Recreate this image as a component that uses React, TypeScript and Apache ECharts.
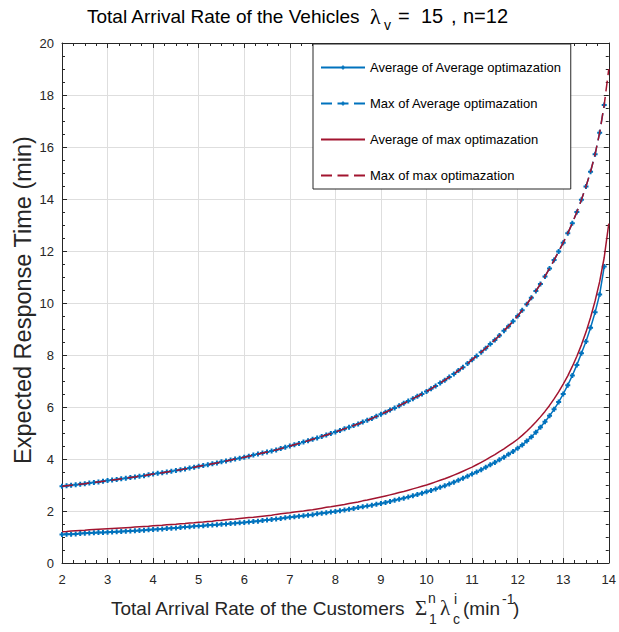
import { useEffect, useRef } from "react";
import * as echarts from "echarts";

// Total arrival rate of the customers (min^-1), sampled every 0.1
const lambdaC = [
  2.0, 2.1, 2.2, 2.3, 2.4, 2.5, 2.6, 2.7, 2.8, 2.9,
  3.0, 3.1, 3.2, 3.3, 3.4, 3.5, 3.6, 3.7, 3.8, 3.9,
  4.0, 4.1, 4.2, 4.3, 4.4, 4.5, 4.6, 4.7, 4.8, 4.9,
  5.0, 5.1, 5.2, 5.3, 5.4, 5.5, 5.6, 5.7, 5.8, 5.9,
  6.0, 6.1, 6.2, 6.3, 6.4, 6.5, 6.6, 6.7, 6.8, 6.9,
  7.0, 7.1, 7.2, 7.3, 7.4, 7.5, 7.6, 7.7, 7.8, 7.9,
  8.0, 8.1, 8.2, 8.3, 8.4, 8.5, 8.6, 8.7, 8.8, 8.9,
  9.0, 9.1, 9.2, 9.3, 9.4, 9.5, 9.6, 9.7, 9.8, 9.9,
  10.0, 10.1, 10.2, 10.3, 10.4, 10.5, 10.6, 10.7, 10.8, 10.9,
  11.0, 11.1, 11.2, 11.3, 11.4, 11.5, 11.6, 11.7, 11.8, 11.9,
  12.0, 12.1, 12.2, 12.3, 12.4, 12.5, 12.6, 12.7, 12.8, 12.9,
  13.0, 13.1, 13.2, 13.3, 13.4, 13.5, 13.6, 13.7, 13.8, 13.9,
  14.0,
];

// Average of Average optimazation (min), 2.0 .. 13.9
const avgOfAvg = [
  1.10, 1.11, 1.11, 1.12, 1.13, 1.14, 1.15, 1.16, 1.17, 1.17,
  1.18, 1.19, 1.20, 1.21, 1.22, 1.23, 1.24, 1.25, 1.26, 1.28,
  1.29, 1.30, 1.31, 1.33, 1.34, 1.35, 1.37, 1.38, 1.39, 1.41,
  1.42, 1.43, 1.45, 1.46, 1.47, 1.49, 1.50, 1.52, 1.53, 1.55,
  1.56, 1.58, 1.60, 1.61, 1.63, 1.65, 1.67, 1.69, 1.71, 1.74,
  1.76, 1.78, 1.80, 1.82, 1.84, 1.86, 1.89, 1.91, 1.93, 1.96,
  1.98, 2.01, 2.04, 2.07, 2.10, 2.13, 2.16, 2.19, 2.22, 2.26,
  2.29, 2.33, 2.37, 2.41, 2.45, 2.49, 2.54, 2.59, 2.63, 2.68,
  2.74, 2.79, 2.85, 2.91, 2.97, 3.04, 3.11, 3.18, 3.26, 3.34,
  3.42, 3.50, 3.59, 3.68, 3.78, 3.87, 3.97, 4.07, 4.18, 4.29,
  4.41, 4.54, 4.69, 4.85, 5.03, 5.22, 5.43, 5.66, 5.91, 6.19,
  6.50, 6.84, 7.21, 7.62, 8.07, 8.52, 9.05, 9.64, 10.33, 11.40,
];

// Max of Average optimazation (min), 2.0 .. 13.9
const maxOfAvg = [
  2.95, 2.97, 2.99, 3.01, 3.03, 3.05, 3.08, 3.10, 3.12, 3.14,
  3.17, 3.19, 3.21, 3.24, 3.26, 3.29, 3.31, 3.34, 3.36, 3.39,
  3.42, 3.45, 3.47, 3.50, 3.53, 3.56, 3.59, 3.62, 3.65, 3.68,
  3.72, 3.75, 3.78, 3.82, 3.85, 3.89, 3.92, 3.96, 4.00, 4.03,
  4.07, 4.11, 4.15, 4.19, 4.23, 4.27, 4.31, 4.35, 4.40, 4.45,
  4.50, 4.55, 4.60, 4.65, 4.70, 4.76, 4.81, 4.87, 4.92, 4.98,
  5.04, 5.10, 5.16, 5.22, 5.29, 5.35, 5.42, 5.49, 5.56, 5.64,
  5.72, 5.80, 5.88, 5.96, 6.05, 6.14, 6.23, 6.32, 6.41, 6.50,
  6.60, 6.70, 6.81, 6.92, 7.03, 7.15, 7.27, 7.40, 7.53, 7.67,
  7.82, 7.96, 8.11, 8.26, 8.42, 8.58, 8.75, 8.93, 9.11, 9.30,
  9.50, 9.72, 9.95, 10.20, 10.46, 10.73, 11.02, 11.33, 11.65, 11.98,
  12.32, 12.68, 13.07, 13.50, 13.97, 14.48, 15.05, 15.72, 16.55, 17.62,
];

// Average of max optimazation (min), 2.0 .. 14.0
const avgOfMax = [
  1.20, 1.21, 1.23, 1.24, 1.25, 1.26, 1.28, 1.29, 1.30, 1.31,
  1.32, 1.33, 1.34, 1.35, 1.36, 1.37, 1.38, 1.39, 1.40, 1.41,
  1.43, 1.44, 1.45, 1.47, 1.48, 1.49, 1.51, 1.52, 1.54, 1.55,
  1.57, 1.58, 1.60, 1.61, 1.63, 1.64, 1.66, 1.68, 1.69, 1.71,
  1.73, 1.75, 1.76, 1.78, 1.80, 1.82, 1.84, 1.87, 1.89, 1.91,
  1.93, 1.96, 1.98, 2.00, 2.03, 2.05, 2.08, 2.11, 2.14, 2.16,
  2.19, 2.22, 2.25, 2.29, 2.32, 2.35, 2.39, 2.42, 2.46, 2.50,
  2.54, 2.58, 2.62, 2.66, 2.71, 2.75, 2.80, 2.85, 2.90, 2.95,
  3.00, 3.06, 3.12, 3.18, 3.24, 3.31, 3.38, 3.45, 3.53, 3.61,
  3.69, 3.78, 3.87, 3.97, 4.07, 4.17, 4.28, 4.39, 4.51, 4.63,
  4.76, 4.91, 5.07, 5.24, 5.42, 5.62, 5.83, 6.06, 6.31, 6.58,
  6.88, 7.20, 7.56, 7.95, 8.39, 8.88, 9.44, 10.08, 10.82, 11.75,
  13.05,
];

// Max of max optimazation (min), 2.0 .. 14.0
const maxOfMax = [
  2.95, 2.97, 2.99, 3.01, 3.03, 3.05, 3.08, 3.10, 3.12, 3.14,
  3.17, 3.19, 3.21, 3.24, 3.26, 3.29, 3.31, 3.34, 3.36, 3.39,
  3.42, 3.45, 3.47, 3.50, 3.53, 3.56, 3.59, 3.62, 3.65, 3.68,
  3.72, 3.75, 3.78, 3.82, 3.85, 3.89, 3.92, 3.96, 4.00, 4.03,
  4.07, 4.11, 4.15, 4.19, 4.23, 4.27, 4.31, 4.35, 4.40, 4.45,
  4.50, 4.55, 4.60, 4.65, 4.70, 4.76, 4.81, 4.87, 4.92, 4.98,
  5.04, 5.10, 5.16, 5.22, 5.29, 5.35, 5.42, 5.49, 5.56, 5.64,
  5.72, 5.80, 5.88, 5.96, 6.05, 6.14, 6.23, 6.32, 6.41, 6.50,
  6.60, 6.70, 6.81, 6.92, 7.03, 7.15, 7.27, 7.40, 7.53, 7.67,
  7.82, 7.96, 8.11, 8.26, 8.42, 8.58, 8.75, 8.93, 9.11, 9.30,
  9.50, 9.72, 9.95, 10.20, 10.46, 10.73, 11.02, 11.33, 11.65, 11.98,
  12.32, 12.68, 13.07, 13.50, 13.97, 14.48, 15.05, 15.72, 16.55, 17.62,
  19.00,
];

const seriesNames = [
  "Average of Average optimazation",
  "Max of Average optimazation",
  "Average of max optimazation",
  "Max of max optimazation",
];

const X_MIN = 2;
const X_MAX = 14;
const X_STEP = 1;
const Y_MIN = 0;
const Y_MAX = 20;
const Y_STEP = 2;

const BLUE = "#0072BD";
const RED = "#A2142F";
const INK = "#262626";
const SANS = '"Liberation Sans", Arial, Helvetica, sans-serif';
const SERIF = '"Liberation Serif", "DejaVu Serif", serif';
const PLUS = "path://M3,0H7V3H10V7H7V10H3V7H0V3H3Z";
const DASH = [11, 5.5];

const pairs = (ys: number[]) => ys.map((y, i) => [lambdaC[i], y]);

// one run of text placed on a given baseline
function piece(text: string, x: number, baseline: number, size: number, family = SANS, fill = INK) {
  return {
    type: "text",
    x,
    y: baseline - 0.35 * size,
    silent: true,
    style: { text, fontSize: size, fontFamily: family, fill, align: "left", verticalAlign: "middle" },
  };
}

function frameAxis(position: "top" | "bottom" | "left" | "right", main: boolean) {
  const isX = position === "top" || position === "bottom";
  return {
    type: "value",
    position,
    min: isX ? X_MIN : Y_MIN,
    max: isX ? X_MAX : Y_MAX,
    interval: isX ? X_STEP : Y_STEP,
    axisLine: { show: true, onZero: false, lineStyle: { color: INK, width: 1 } },
    axisTick: { show: true, inside: true, length: 5, lineStyle: { color: INK, width: 1 } },
    minorTick: { show: true, splitNumber: 4, length: 3, lineStyle: { color: INK, width: 1 } },
    splitLine: { show: main, lineStyle: { color: "#dedede", width: 1 } },
    axisLabel: {
      show: main,
      fontSize: 13,
      fontFamily: SANS,
      color: INK,
      margin: isX ? 10 : 8,
    },
  };
}

export default function App() {
  const ref = useRef<HTMLDivElement>(null);

  useEffect(() => {
    document.body.style.margin = "0";
    const chart = echarts.init(ref.current!, null, { renderer: "svg" });

    const hiddenMark = { color: "rgba(0,0,0,0)", borderWidth: 0, opacity: 0 };

    const option = {
      animation: false,
      backgroundColor: "#ffffff",
      grid: { left: 62, right: 5, top: 43, bottom: 69, containLabel: false },
      xAxis: [frameAxis("bottom", true), frameAxis("top", false)],
      yAxis: [frameAxis("left", true), frameAxis("right", false)],
      legend: {
        orient: "vertical",
        left: 313,
        top: 44,
        itemWidth: 44,
        itemHeight: 5,
        itemGap: 23,
        padding: [17, 9, 7, 7],
        backgroundColor: "#ffffff",
        borderColor: INK,
        borderWidth: 1,
        selectedMode: false,
        textStyle: { fontSize: 13, fontFamily: SANS, color: "#000000" },
        data: [
          { name: seriesNames[0] },
          { name: seriesNames[1] },
          { name: seriesNames[2], itemStyle: hiddenMark },
          { name: seriesNames[3], itemStyle: hiddenMark },
        ],
      },
      graphic: [
        // title
        piece("Total Arrival Rate of the Vehicles", 87, 22.7, 19, SANS, "#000"),
        piece("λ", 370, 24, 22, SERIF, "#000"),
        piece("v", 384, 29.5, 14, SANS, "#000"),
        piece("=", 398, 22.7, 20, SANS, "#000"),
        piece("15", 421, 22.7, 20, SANS, "#000"),
        piece(",", 451, 22.7, 20, SANS, "#000"),
        piece("n=12", 463, 22.7, 20, SANS, "#000"),
        // x axis label
        piece("Total Arrival Rate of the Customers", 111, 615, 19),
        piece("Σ", 415, 615, 21, SERIF),
        piece("n", 428, 603, 14),
        piece("1", 429, 624, 14),
        piece("λ", 440, 615.5, 21, SERIF),
        piece("i", 454, 604, 14),
        piece("c", 453, 624, 14),
        piece("(min", 463, 615, 19),
        piece("-1", 502, 604, 14),
        piece(")", 513, 615, 19),
        // y axis label
        {
          type: "text",
          x: 22.5,
          y: 300,
          rotation: Math.PI / 2,
          silent: true,
          style: {
            text: "Expected Response Time (min)",
            fontSize: 23.5,
            fontFamily: SANS,
            fill: INK,
            align: "center",
            verticalAlign: "middle",
          },
        },
      ],
      series: [
        {
          name: seriesNames[0],
          type: "line",
          data: pairs(avgOfAvg),
          symbol: PLUS,
          symbolSize: 5,
          showSymbol: true,
          itemStyle: { color: BLUE, borderWidth: 0 },
          lineStyle: { color: BLUE, width: 1.5 },
          emphasis: { disabled: true },
          z: 2,
        },
        {
          name: seriesNames[1],
          type: "line",
          data: pairs(maxOfAvg),
          symbol: PLUS,
          symbolSize: 5,
          showSymbol: true,
          itemStyle: { color: BLUE, borderWidth: 0 },
          lineStyle: { color: BLUE, width: 1.5, type: DASH },
          emphasis: { disabled: true },
          z: 2,
        },
        {
          name: seriesNames[2],
          type: "line",
          data: pairs(avgOfMax),
          symbol: "none",
          itemStyle: { color: RED },
          lineStyle: { color: RED, width: 1.5 },
          emphasis: { disabled: true },
          z: 3,
        },
        {
          name: seriesNames[3],
          type: "line",
          data: pairs(maxOfMax),
          symbol: "none",
          itemStyle: { color: RED },
          lineStyle: { color: RED, width: 1.5, type: DASH },
          emphasis: { disabled: true },
          z: 3,
        },
      ],
    };

    chart.setOption(option as any);
    return () => chart.dispose();
  }, []);

  return <div ref={ref} style={{ width: 619, height: 632 }} />;
}
